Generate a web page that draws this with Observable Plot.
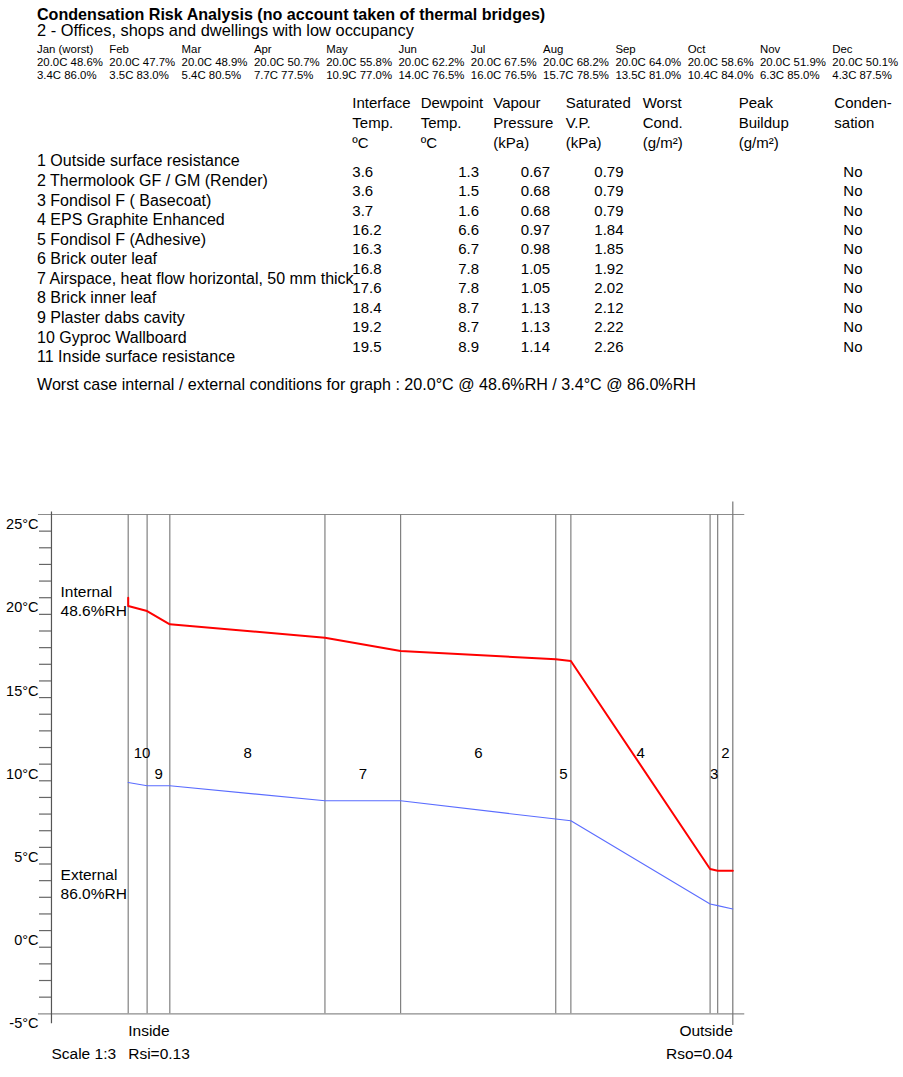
<!DOCTYPE html>
<html>
<head>
<meta charset="utf-8">
<script src="https://cdn.jsdelivr.net/npm/d3@7"></script>
<script src="https://cdn.jsdelivr.net/npm/@observablehq/plot@0.6"></script>
<style>
  html, body { margin: 0; padding: 0; background: #fff; }
  body { font-family: "Liberation Sans", Arial, Helvetica, sans-serif; color: #000; }
  #page { position: relative; width: 903px; height: 1077px; overflow: hidden; }
  .t { position: absolute; white-space: pre; }
  #chart { position: absolute; left: 0; top: 490px; }
</style>
</head>
<body>
<div id="page"><div id="chart"></div></div>
<script>
// ---------- data ----------
const title = "Condensation Risk Analysis (no account taken of thermal bridges)";
const subtitle = "2 - Offices, shops and dwellings with low occupancy";
const months = ["Jan (worst)", "Feb", "Mar", "Apr", "May", "Jun", "Jul", "Aug", "Sep", "Oct", "Nov", "Dec"];
const monthInternalT = [20.0, 20.0, 20.0, 20.0, 20.0, 20.0, 20.0, 20.0, 20.0, 20.0, 20.0, 20.0];
const monthInternalRH = [48.6, 47.7, 48.9, 50.7, 55.8, 62.2, 67.5, 68.2, 64.0, 58.6, 51.9, 50.1];
const monthExternalT = [3.4, 3.5, 5.4, 7.7, 10.9, 14.0, 16.0, 15.7, 13.5, 10.4, 6.3, 4.3];
const monthExternalRH = [86.0, 83.0, 80.5, 77.5, 77.0, 76.5, 76.5, 78.5, 81.0, 84.0, 85.0, 87.5];

const tableHeaders = [
  ["Interface", "Temp.", "ºC"],
  ["Dewpoint", "Temp.", "ºC"],
  ["Vapour", "Pressure", "(kPa)"],
  ["Saturated", "V.P.", "(kPa)"],
  ["Worst", "Cond.", "(g/m²)"],
  ["Peak", "Buildup", "(g/m²)"],
  ["Conden-", "sation"]
];
const layerNames = [
  "1 Outside surface resistance",
  "2 Thermolook GF / GM (Render)",
  "3 Fondisol F ( Basecoat)",
  "4 EPS Graphite Enhanced",
  "5 Fondisol F (Adhesive)",
  "6 Brick outer leaf",
  "7 Airspace, heat flow horizontal, 50 mm thick",
  "8 Brick inner leaf",
  "9 Plaster dabs cavity",
  "10 Gyproc Wallboard",
  "11 Inside surface resistance"
];
// thickness of each layer in mm (outside -> inside), as drawn at scale 1:3
const layerThickness = [0, 10, 5, 92, 10, 102.5, 50, 102.5, 15, 12.5, 0];
// values at the interface between layer i and layer i+1
const interfaceTemp = [3.6, 3.6, 3.7, 16.2, 16.3, 16.8, 17.6, 18.4, 19.2, 19.5];
const dewpointTemp = [1.3, 1.5, 1.6, 6.6, 6.7, 7.8, 7.8, 8.7, 8.7, 8.9];
const vapourPressure = [0.67, 0.68, 0.68, 0.97, 0.98, 1.05, 1.05, 1.13, 1.13, 1.14];
const saturatedVP = [0.79, 0.79, 0.79, 1.84, 1.85, 1.92, 2.02, 2.12, 2.22, 2.26];
const condensation = ["No", "No", "No", "No", "No", "No", "No", "No", "No", "No"];

const worstInternalT = 20.0, worstInternalRH = 48.6;
const worstExternalT = 3.4, worstExternalRH = 86.0;
const scaleText = "Scale 1:3", rsiText = "Rsi=0.13", rsoText = "Rso=0.04";
const yLabelTicks = [25, 20, 15, 10, 5, 0, -5];
const yMinorTicks = d3.range(-4, 25);

// ---------- header (HTML text) ----------
const page = document.getElementById("page");
function put(text, x, cy, size, opts = {}) {
  const d = document.createElement("div");
  d.className = "t";
  d.textContent = text;
  const lh = size * 1.2;
  d.style.fontSize = size + "px";
  d.style.lineHeight = lh + "px";
  d.style.top = (cy - lh / 2) + "px";
  if (opts.bold) d.style.fontWeight = "bold";
  if (opts.align === "right") {
    d.style.left = (x - 300) + "px";
    d.style.width = "300px";
    d.style.textAlign = "right";
  } else {
    d.style.left = x + "px";
  }
  page.appendChild(d);
}
const f1 = v => v.toFixed(1);
const f2 = v => v.toFixed(2);

put(title, 37, 15, 16.1, {bold: true});
put(subtitle, 37, 31, 16.4);
months.forEach((m, i) => {
  const x = 37 + i * 72.3;
  put(m, x, 49.5, 11.4);
  put(`${f1(monthInternalT[i])}C ${f1(monthInternalRH[i])}%`, x, 62.9, 11.4);
  put(`${f1(monthExternalT[i])}C ${f1(monthExternalRH[i])}%`, x, 76.3, 11.4);
});
const headerX = [352.3, 420.7, 493.3, 565.7, 642.7, 738.7, 834.3];
tableHeaders.forEach((lines, c) => lines.forEach((s, r) => put(s, headerX[c], 103.3 + r * 19.7, 15)));
layerNames.forEach((s, i) => put(s, 37, 161 + i * 19.57, 16));
interfaceTemp.forEach((v, i) => {
  const cy = 171.7 + i * 19.44;
  put(f1(v), 352.3, cy, 15);
  put(f1(dewpointTemp[i]), 479, cy, 15, {align: "right"});
  put(f2(vapourPressure[i]), 550, cy, 15, {align: "right"});
  put(f2(saturatedVP[i]), 623.5, cy, 15, {align: "right"});
  put(condensation[i], 843.3, cy, 15);
});
put(`Worst case internal / external conditions for graph : ${f1(worstInternalT)}°C @ ${f1(worstInternalRH)}%RH / ${f1(worstExternalT)}°C @ ${f1(worstExternalRH)}%RH`, 37, 385, 16.1);

// ---------- chart geometry from data ----------
const total = d3.sum(layerThickness);            // inside face = 0, outside face = total
const cum = d3.cumsum(layerThickness);
const interfacePos = interfaceTemp.map((_, i) => total - cum[i]); // distance from inside face
const tempProfile = [{x: 0, t: worstInternalT}]
  .concat(interfaceTemp.map((t, i) => ({x: interfacePos[i], t})).reverse());
const dewProfile = dewpointTemp.map((t, i) => ({x: interfacePos[i], t})).reverse();
const layerLabels = d3.range(1, 10).map(k => ({
  n: k + 1,
  x: (interfacePos[k - 1] + interfacePos[k]) / 2
}));

// frame extents (mm, °C)
const axisXmm = -50.7, frameLeftMm = -59.3, frameRightMm = 407.4;

const font = "Liberation Sans, Arial, Helvetica, sans-serif";
const chart = Plot.plot({
  width: 903,
  height: 587,
  marginLeft: 51,
  marginRight: 158,
  marginTop: 24,
  marginBottom: 64,
  x: {domain: [0, total], range: [127.7, 732.3], axis: null},
  y: {domain: [-5, 25], range: [523.3, 24]},
  style: {fontFamily: font, fontSize: "15px", color: "#000", background: "transparent", overflow: "visible"},
  marks: [
    // frame
    Plot.ruleY([25, -5], {x1: frameLeftMm, x2: frameRightMm, stroke: "#8c8c8c", strokeWidth: 1.2}),
    Plot.ruleX([axisXmm], {y1: -5.6, y2: 25.15, stroke: "#555", strokeWidth: 1.2}),
    Plot.ruleX([total], {y1: -5.7, y2: 25.75, stroke: "#777", strokeWidth: 1.2}),
    Plot.ruleX(interfacePos.slice(1), {y1: -5, y2: 25, stroke: "#808080", strokeWidth: 1.2}),
    // y axis ticks and labels
    Plot.axisY(yMinorTicks, {anchor: "left", tickSize: 12, tickFormat: () => "", stroke: "#666", strokeWidth: 1.2, label: null}),
    Plot.axisY(yLabelTicks, {anchor: "left", tickSize: 0, tickPadding: 13, dy: 10, fontSize: 14.5, tickFormat: d => `${d}°C`, label: null}),
    // profiles
    Plot.line(dewProfile, {x: "x", y: "t", stroke: "#5a6cff", strokeWidth: 1.1}),
    Plot.line(tempProfile, {x: "x", y: "t", stroke: "#ff0000", strokeWidth: 2}),
    // layer numbers
    Plot.text(layerLabels, {x: "x", y: d => d.n % 2 === 0 ? 10.63 : 9.42, text: d => String(d.n), textAnchor: "start", dx: -4, fontSize: 15}),
    // condition labels
    Plot.text([`Internal\n${f1(worstInternalRH)}%RH`], {x: -44.7, y: 19.86, text: d => d, textAnchor: "start", lineHeight: 1.25, fontSize: 15.5}),
    Plot.text([`External\n${f1(worstExternalRH)}%RH`], {x: -44.7, y: 2.83, text: d => d, textAnchor: "start", lineHeight: 1.25, fontSize: 15.5}),
    // bottom notes
    Plot.text(["Inside"], {x: 0, y: -6.06, text: d => d, textAnchor: "start", fontSize: 15.5}),
    Plot.text([rsiText], {x: 0, y: -7.39, text: d => d, textAnchor: "start", fontSize: 15.5}),
    Plot.text([scaleText], {x: axisXmm, y: -7.39, text: d => d, textAnchor: "start", fontSize: 15.5}),
    Plot.text(["Outside"], {x: total, y: -6.06, text: d => d, textAnchor: "end", fontSize: 15.5}),
    Plot.text([rsoText], {x: total, y: -7.39, text: d => d, textAnchor: "end", fontSize: 15.5})
  ]
});
document.getElementById("chart").appendChild(chart);
</script>
</body>
</html>
